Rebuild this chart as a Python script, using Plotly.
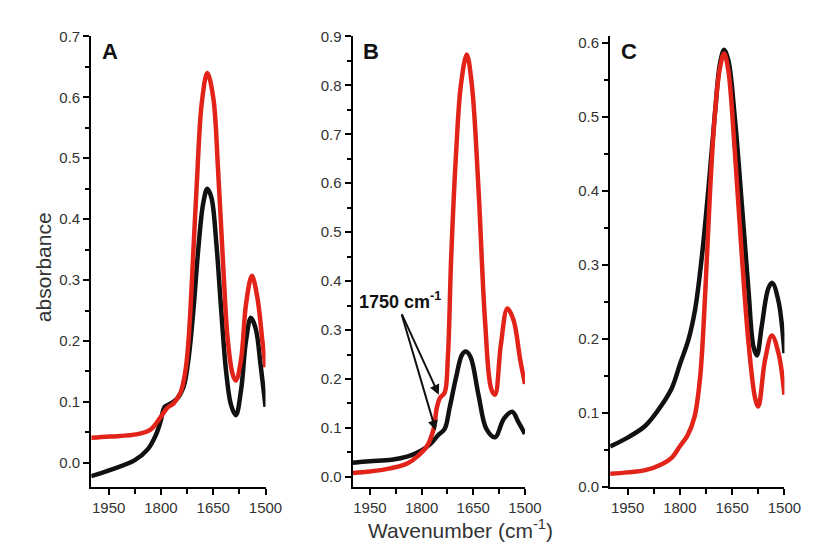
import plotly.graph_objects as go

# ---------------- data ----------------
wn_a_black = [2000, 1947, 1876, 1838, 1815, 1801, 1789, 1773, 1754, 1735, 1721, 1707, 1693, 1679, 1667, 1655, 1641, 1627, 1613, 1599, 1585, 1570, 1556, 1542, 1528, 1514, 1500]
ab_a_black = [-0.022, -0.012, 0.004, 0.022, 0.045, 0.068, 0.092, 0.097, 0.105, 0.125, 0.17, 0.25, 0.35, 0.425, 0.45, 0.435, 0.36, 0.25, 0.15, 0.095, 0.078, 0.12, 0.2, 0.238, 0.22, 0.16, 0.092]
wn_a_red = [2000, 1947, 1867, 1829, 1801, 1782, 1763, 1744, 1730, 1721, 1711, 1697, 1683, 1667, 1650, 1636, 1622, 1608, 1594, 1585, 1570, 1556, 1539, 1523, 1509, 1500]
ab_a_red = [0.041, 0.043, 0.047, 0.055, 0.075, 0.09, 0.098, 0.115, 0.15, 0.2, 0.3, 0.46, 0.59, 0.64, 0.6, 0.48, 0.33, 0.2, 0.145, 0.135, 0.17, 0.26, 0.307, 0.27, 0.2, 0.157]

wn_b_black = [2000, 1950, 1887, 1840, 1803, 1775, 1752, 1733, 1719, 1700, 1683, 1672, 1658, 1635, 1612, 1587, 1561, 1537, 1519, 1500]
ab_b_black = [0.029, 0.032, 0.035, 0.042, 0.053, 0.067, 0.085, 0.098, 0.14, 0.203, 0.249, 0.256, 0.245, 0.168, 0.098, 0.081, 0.119, 0.133, 0.112, 0.088]
wn_b_red = [2000, 1950, 1887, 1840, 1812, 1784, 1765, 1756, 1747, 1733, 1724, 1714, 1700, 1686, 1669, 1654, 1635, 1616, 1598, 1587, 1570, 1551, 1533, 1514, 1500]
ab_b_red = [0.008, 0.011, 0.018, 0.028, 0.042, 0.063, 0.098, 0.14, 0.161, 0.172, 0.24, 0.45, 0.66, 0.80, 0.863, 0.80, 0.59, 0.32, 0.18, 0.168, 0.27, 0.344, 0.32, 0.24, 0.19]

wn_c_black = [2000, 1950, 1899, 1852, 1823, 1799, 1775, 1756, 1737, 1718, 1699, 1685, 1673, 1661, 1642, 1622, 1603, 1589, 1579, 1565, 1546, 1535, 1517, 1500]
ab_c_black = [0.055, 0.067, 0.083, 0.111, 0.134, 0.167, 0.2, 0.241, 0.311, 0.404, 0.507, 0.572, 0.591, 0.577, 0.497, 0.381, 0.265, 0.19, 0.178, 0.218, 0.269, 0.276, 0.251, 0.181]
wn_c_red = [2000, 1950, 1899, 1852, 1823, 1799, 1778, 1758, 1742, 1727, 1713, 1699, 1685, 1673, 1661, 1642, 1622, 1603, 1584, 1575, 1556, 1536, 1517, 1500]
ab_c_red = [0.018, 0.02, 0.023, 0.031, 0.04, 0.056, 0.07, 0.095, 0.148, 0.265, 0.404, 0.507, 0.567, 0.586, 0.563, 0.451, 0.311, 0.195, 0.12, 0.109, 0.171, 0.205, 0.181, 0.125]

x_ticks = [1950, 1800, 1650, 1500]
x_minor = [1875, 1725, 1575]
panel_labels = ["A", "B", "C"]
y_ranges = [[-0.04, 0.7], [-0.021, 0.9], [0.0, 0.609]]

BLACK = "#111111"
RED = "#e2231a"
W, H = 814, 556
FONT = "Liberation Sans, Arial, sans-serif"

fig = go.Figure()
panels = [
    (wn_a_black, ab_a_black, wn_a_red, ab_a_red),
    (wn_b_black, ab_b_black, wn_b_red, ab_b_red),
    (wn_c_black, ab_c_black, wn_c_red, ab_c_red),
]
for i, (xb, yb, xr, yr) in enumerate(panels):
    sfx = "" if i == 0 else str(i + 1)
    fig.add_trace(go.Scatter(x=xb, y=yb, mode="lines", line=dict(color=BLACK, width=4.5, shape="spline", smoothing=1.0),
                             xaxis="x" + sfx, yaxis="y" + sfx, showlegend=False, hoverinfo="skip"))
    fig.add_trace(go.Scatter(x=xr, y=yr, mode="lines", line=dict(color=RED, width=4.5, shape="spline", smoothing=1.0),
                             xaxis="x" + sfx, yaxis="y" + sfx, showlegend=False, hoverinfo="skip"))

x_px = [(85, 263), (352, 528), (615, 793)]
ydom = [(H - 485) / H, (H - 20) / H]
tickfont = dict(family=FONT, size=15, color="#333333")
layout = dict(width=W, height=H, margin=dict(l=0, r=0, t=0, b=0),
              plot_bgcolor="white", paper_bgcolor="white", showlegend=False)
for i in range(3):
    sfx = "" if i == 0 else str(i + 1)
    layout["xaxis" + sfx] = dict(
        domain=[x_px[i][0] / W, x_px[i][1] / W], range=[2000, 1500], anchor="y" + sfx,
        tickvals=x_ticks, ticktext=[str(v) for v in x_ticks],
        showline=True, linecolor="black", linewidth=2, ticks="outside", ticklen=6, tickwidth=2, tickcolor="black",
        minor=dict(tickvals=x_minor, ticks="outside", ticklen=5, tickwidth=2, tickcolor="black"),
        showgrid=False, zeroline=False, tickfont=tickfont, fixedrange=True)
    layout["yaxis" + sfx] = dict(
        domain=ydom, range=y_ranges[i], anchor="x" + sfx,
        tick0=0, dtick=0.1, tickformat=".1f",
        showline=True, linecolor="black", linewidth=2, ticks="outside", ticklen=6, tickwidth=2, tickcolor="black",
        minor=dict(dtick=0.05, ticks="outside", ticklen=4, tickwidth=2, tickcolor="black"),
        showgrid=False, zeroline=False, tickfont=tickfont, fixedrange=True)
fig.update_layout(**layout)

ann = []
for i, lab in enumerate(panel_labels):
    sfx = "" if i == 0 else str(i + 1)
    ann.append(dict(text="<b>%s</b>" % lab, xref="x%s domain" % sfx, yref="paper", x=0.05, y=(H - 36) / H,
                    xanchor="left", yanchor="middle", showarrow=False,
                    font=dict(family=FONT, size=22, color="#111111")))
ann.append(dict(text="absorbance", textangle=-90, xref="paper", yref="paper", x=22 / W, y=(H - 258) / H,
                showarrow=False, font=dict(family=FONT, size=21, color="#333333")))
ann.append(dict(text="Wavenumber (cm<sup>-1</sup>)", xref="paper", yref="paper", x=462 / W, y=(H - 544) / H,
                showarrow=False, font=dict(family=FONT, size=21, color="#333333")))
ann.append(dict(text="<b>1750 cm<sup>-1</sup></b>", xref="x2", yref="y2", x=1988, y=0.36, xanchor="left",
                yanchor="middle", showarrow=False,
                font=dict(family=FONT, size=18, color="#111111")))
for hx, hy in [(1750, 0.168), (1759, 0.095)]:
    ann.append(dict(text="", xref="x2", yref="y2", x=hx, y=hy, axref="x2", ayref="y2", ax=1859, ay=0.335,
                    showarrow=True, arrowhead=2, arrowsize=1, arrowwidth=2, arrowcolor="#111111"))
fig.update_layout(annotations=ann)

fig.write_html("out.html")
